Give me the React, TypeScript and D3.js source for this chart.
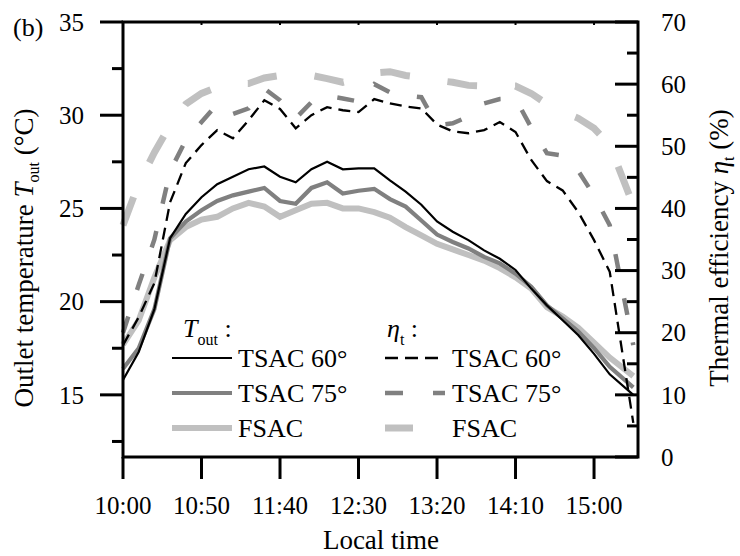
import React from 'react';
import * as d3 from 'd3';

// minutes after 10:00
const times = [0, 10, 20, 30, 40, 50, 60, 70, 80, 90, 100, 110, 120, 130, 140, 150, 160, 170, 180, 190, 200, 210, 220, 230, 240, 250, 260, 270, 280, 290, 300, 310, 325];

const tsac60T = [15.8, 17.3, 19.6, 23.4, 24.7, 25.6, 26.3, 26.7, 27.1, 27.25, 26.7, 26.4, 27.1, 27.5, 27.1, 27.15, 27.15, 26.5, 25.9, 25.2, 24.3, 23.75, 23.3, 22.75, 22.3, 21.7, 20.7, 19.8, 19.0, 18.2, 17.2, 16.1, 15.0];
const tsac75T = [16.4, 17.5, 19.6, 23.4, 24.3, 24.9, 25.4, 25.7, 25.9, 26.1, 25.4, 25.25, 26.1, 26.4, 25.8, 25.95, 26.05, 25.5, 25.1, 24.35, 23.6, 23.2, 22.85, 22.4, 22.05, 21.5, 20.8, 19.8, 19.1, 18.4, 17.5, 16.5, 15.4];
const fsacT = [17.7, 19.0, 21.3, 23.3, 24.0, 24.4, 24.55, 25.0, 25.3, 25.1, 24.55, 24.9, 25.25, 25.3, 25.0, 25.0, 24.8, 24.5, 24.0, 23.55, 23.1, 22.8, 22.5, 22.2, 21.8, 21.3, 20.7, 19.7, 19.2, 18.6, 17.8, 17.0, 16.0];

const tsac60Eta = [18, 22.5, 28, 41, 47.3, 50.2, 52.6, 51.3, 54.2, 57.4, 56, 52.9, 55, 56.3, 55.8, 55.5, 57.6, 56.9, 56.4, 56.1, 53.5, 52.4, 52.1, 52.6, 53.9, 52.3, 47.8, 44.4, 42.9, 39.4, 34.9, 29.8, 5.5];
const tsac75Eta = [20, 27.7, 35, 46, 51, 53.9, 56.8, 55.2, 56.1, 59.3, 57.4, 54.5, 57.1, 58.1, 57.7, 57.2, 60, 58.7, 58.2, 57.9, 53.4, 53.7, 54.8, 56.9, 57.6, 57.7, 53, 48.9, 48.5, 46, 42.1, 37.3, 18];
const fsacEta = [37.3, 44, 49, 53.4, 56.8, 58.5, 59.5, 60.1, 60.1, 61, 61.4, 61.2, 61.4, 60.9, 60.3, 60.9, 61.8, 62, 61.4, 61.1, 60.6, 60.3, 59.8, 59.7, 59.7, 59.7, 58.5, 56.8, 55.5, 54.5, 52.9, 50.2, 40.5];

const xTicks = [0, 50, 100, 150, 200, 250, 300];
const xTickLabels = ['10:00', '10:50', '11:40', '12:30', '13:20', '14:10', '15:00'];
const leftTicks = [15, 20, 25, 30, 35];
const leftMinor = [12.5, 17.5, 22.5, 27.5, 32.5];
const rightTicks = [0, 10, 20, 30, 40, 50, 60, 70];
const rightMinor = [5, 15, 25, 35, 45, 55, 65];
const seriesNames = ['TSAC 60°', 'TSAC 75°', 'FSAC'];

const FONT = "'Liberation Serif'";

export default function App() {
  const W = 740, H = 556;
  const L = 123, R = 638, T = 22, B = 457;
  const x = d3.scaleLinear().domain([0, 328]).range([L, R]);
  const yL = d3.scaleLinear().domain([35 - 70 / 3, 35]).range([B, T]);
  const yR = d3.scaleLinear().domain([0, 70]).range([B, T]);

  const lineL = d3.line<number>().x((_, i) => x(times[i])).y(d => yL(d));
  const lineR = d3.line<number>().x((_, i) => x(times[i])).y(d => yR(d));

  const solid = [
    { data: fsacT, color: '#c0c0c0', w: 6 },
    { data: tsac75T, color: '#808080', w: 4.2 },
    { data: tsac60T, color: '#000000', w: 2.2 },
  ];
  const dashed = [
    { data: fsacEta, color: '#c0c0c0', w: 7, dash: '30,38' },
    { data: tsac75Eta, color: '#808080', w: 4.5, dash: '17,28' },
    { data: tsac60Eta, color: '#000000', w: 2.3, dash: '12,7' },
  ];
  const legSolid = [
    { color: '#000000', w: 2.2 },
    { color: '#808080', w: 4.2 },
    { color: '#c0c0c0', w: 6 },
  ];
  const legDash = [
    { color: '#000000', w: 2.3, dash: '13,7' },
    { color: '#808080', w: 4.5, dash: '18,30' },
    { color: '#c0c0c0', w: 7, dash: '28,40' },
  ];
  const rowY = [358, 393, 428];
  const txt: React.CSSProperties = { fontFamily: FONT };

  return (
    <svg width={W} height={H} style={{ position: 'absolute', left: 0, top: 0, background: '#fff', fontFamily: FONT }}>
      <rect x={0} y={0} width={W} height={H} fill="#fff" />
      {solid.map((s, i) => (
        <path key={'s' + i} d={lineL(s.data) || ''} fill="none" stroke={s.color} strokeWidth={s.w} />
      ))}
      {dashed.map((s, i) => (
        <path key={'d' + i} d={lineR(s.data) || ''} fill="none" stroke={s.color} strokeWidth={s.w} strokeDasharray={s.dash} />
      ))}

      <rect x={L} y={T} width={R - L} height={B - T} fill="none" stroke="#000" strokeWidth={3} />

      {xTicks.map((t, i) => (
        <g key={'xt' + i}>
          <line x1={x(t)} x2={x(t)} y1={B} y2={B + 22} stroke="#000" strokeWidth={3} />
          <line x1={x(t)} x2={x(t)} y1={T} y2={T + 3} stroke="#000" strokeWidth={2} />
          <text style={txt} x={x(t)} y={514} textAnchor="middle" fontSize={25}>{xTickLabels[i]}</text>
        </g>
      ))}
      {leftTicks.map(t => (
        <g key={'lt' + t}>
          <line x1={L - 23} x2={L} y1={yL(t)} y2={yL(t)} stroke="#000" strokeWidth={3} />
          <text style={txt} x={84} y={yL(t)} dy="0.35em" textAnchor="end" fontSize={25}>{t}</text>
        </g>
      ))}
      {leftMinor.map(t => (
        <line key={'lm' + t} x1={L - 11} x2={L} y1={yL(t)} y2={yL(t)} stroke="#000" strokeWidth={3} />
      ))}
      {rightTicks.map(t => (
        <g key={'rt' + t}>
          <line x1={R - 23} x2={R} y1={yR(t)} y2={yR(t)} stroke="#000" strokeWidth={3} />
          <text style={txt} x={661} y={yR(t)} dy="0.35em" textAnchor="start" fontSize={25}>{t}</text>
        </g>
      ))}
      {rightMinor.map(t => (
        <line key={'rm' + t} x1={R - 11} x2={R} y1={yR(t)} y2={yR(t)} stroke="#000" strokeWidth={3} />
      ))}

      <text style={txt} x={381} y={549} textAnchor="middle" fontSize={27}>Local time</text>
      <text style={txt} transform="translate(33,258) rotate(-90)" textAnchor="middle" fontSize={27}>
        Outlet temperature <tspan fontStyle="italic">T</tspan>
        <tspan fontSize={16} dy={6}>out</tspan>
        <tspan dy={-6}> (°C)</tspan>
      </text>
      <text style={txt} transform="translate(728,248) rotate(-90)" textAnchor="middle" fontSize={27}>
        Thermal efficiency <tspan fontStyle="italic">η</tspan>
        <tspan fontSize={16} dy={6}>t</tspan>
        <tspan dy={-6}> (%)</tspan>
      </text>
      <text style={txt} x={13} y={36} fontSize={26}>(b)</text>

      <text style={txt} x={183} y={337} fontSize={26}>
        <tspan fontStyle="italic">T</tspan>
        <tspan fontSize={16} dy={8}>out</tspan>
        <tspan dy={-8}> :</tspan>
      </text>
      <text style={txt} x={387} y={337} fontSize={26}>
        <tspan fontStyle="italic">η</tspan>
        <tspan fontSize={16} dy={8}>t</tspan>
        <tspan dy={-8}> :</tspan>
      </text>
      {seriesNames.map((n, i) => (
        <g key={'lg' + i}>
          <line x1={172} x2={232} y1={rowY[i]} y2={rowY[i]} stroke={legSolid[i].color} strokeWidth={legSolid[i].w} />
          <text style={txt} x={238} y={rowY[i] + 9} fontSize={26}>{n}</text>
          <line x1={385} x2={445} y1={rowY[i]} y2={rowY[i]} stroke={legDash[i].color} strokeWidth={legDash[i].w} strokeDasharray={legDash[i].dash} />
          <text style={txt} x={452} y={rowY[i] + 9} fontSize={26}>{n}</text>
        </g>
      ))}
    </svg>
  );
}
